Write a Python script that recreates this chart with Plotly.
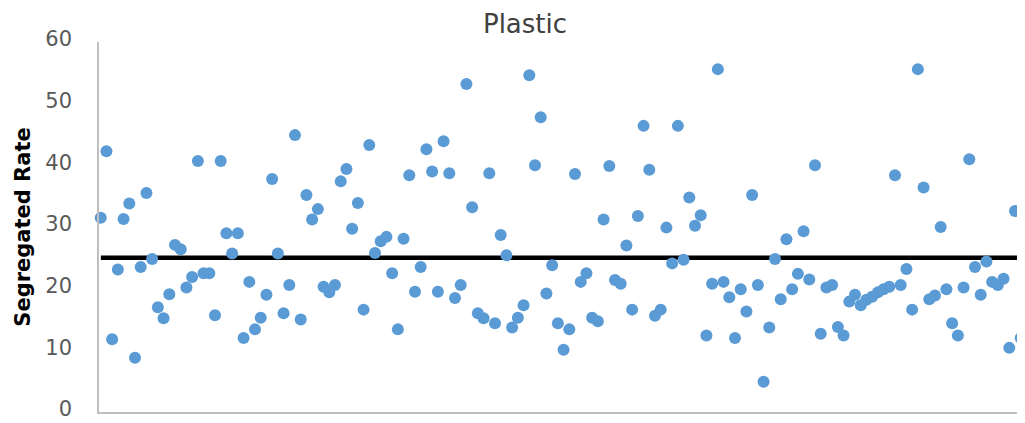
import plotly.graph_objects as go

segregated_rate = [
    31.5, 42.3, 11.8, 23.1, 31.3, 33.8, 8.8, 23.5, 35.5, 24.8,
    17.0, 15.2, 19.1, 27.1, 26.4, 20.2, 21.9, 40.7, 22.5, 22.5,
    15.7, 40.7, 29.0, 25.7, 29.0, 12.0, 21.1, 13.4, 15.3, 19.0,
    37.8, 25.7, 16.0, 20.6, 44.9, 15.0, 35.2, 31.2, 32.9, 20.3,
    19.4, 20.6, 37.4, 39.4, 29.7, 33.9, 16.6, 43.3, 25.8, 27.7,
    28.4, 22.5, 13.4, 28.1, 38.4, 19.5, 23.5, 42.6, 39.0, 19.5,
    43.9, 38.7, 18.5, 20.6, 53.2, 33.2, 16.0, 15.2, 38.7, 14.4,
    28.7, 25.4, 13.7, 15.3, 17.3, 54.6, 40.0, 47.8, 19.2, 23.8,
    14.4, 10.1, 13.4, 38.6, 21.1, 22.5, 15.3, 14.7, 31.2, 39.9,
    21.4, 20.8, 27.0, 16.6, 31.8, 46.4, 39.3, 15.6, 16.6, 29.9,
    24.1, 46.4, 24.7, 34.8, 30.2, 31.9, 12.4, 20.8, 55.6, 21.1,
    18.6, 12.0, 19.9, 16.3, 35.2, 20.6, 4.9, 13.7, 24.8, 18.3,
    28.0, 19.9, 22.4, 29.3, 21.5, 40.0, 12.7, 20.2, 20.6, 13.8,
    12.4, 17.9, 19.0, 17.3, 18.2, 18.7, 19.4, 19.9, 20.3, 38.4,
    20.6, 23.2, 16.6, 55.6, 36.4, 18.3, 18.9, 30.0, 19.9, 14.4,
    12.4, 20.2, 41.0, 23.5, 19.0, 24.4, 21.1, 20.6, 21.6, 10.4,
    32.6, 12.0,
]
observation = list(range(1, len(segregated_rate) + 1))

target_rate = 25
y_ticks = [0, 10, 20, 30, 40, 50, 60]

# The page body has an 8px margin, so the figure is sized to fit the window
FIG_W, FIG_H = 1017, 415

fig = go.Figure()
fig.add_trace(go.Scatter(
    x=observation, y=segregated_rate, mode="markers",
    marker=dict(color="#5B9BD5", size=12, line=dict(width=0)),
    showlegend=False, cliponaxis=False,
))

fig.add_shape(type="line", xref="x domain", yref="y", x0=0.002, x1=0.998,
              y0=target_rate, y1=target_rate,
              line=dict(color="black", width=4.5), layer="below")

fig.update_layout(
    width=FIG_W, height=FIG_H,
    margin=dict(l=91, r=0, t=34, b=11, autoexpand=False),
    plot_bgcolor="white", paper_bgcolor="white",
    title=dict(text="Plastic", x=517 / FIG_W, xanchor="center",
               y=1 - 16 / FIG_H, yanchor="middle", yref="container",
               automargin=False,
               font=dict(family="DejaVu Sans", size=26, color="#404040")),
    xaxis=dict(range=[0.70, 162.75], showgrid=False, zeroline=False,
               showticklabels=False, showline=True, linecolor="#BFBFBF",
               linewidth=1.5, ticks="", automargin=False),
    yaxis=dict(range=[0, 60], tickvals=y_ticks, showgrid=False,
               zeroline=False, showline=True, linecolor="#BFBFBF",
               linewidth=1.5, ticks="", ticklabelstandoff=21,
               ticklabelshift=-3, ticklabeloverflow="allow", automargin=False,
               tickfont=dict(family="DejaVu Sans", size=21, color="#595959"),
               title=dict(text="<b>Segregated Rate</b>", standoff=9,
                          font=dict(family="DejaVu Sans", size=21,
                                    color="black"))),
)

fig.write_html("out.html")
